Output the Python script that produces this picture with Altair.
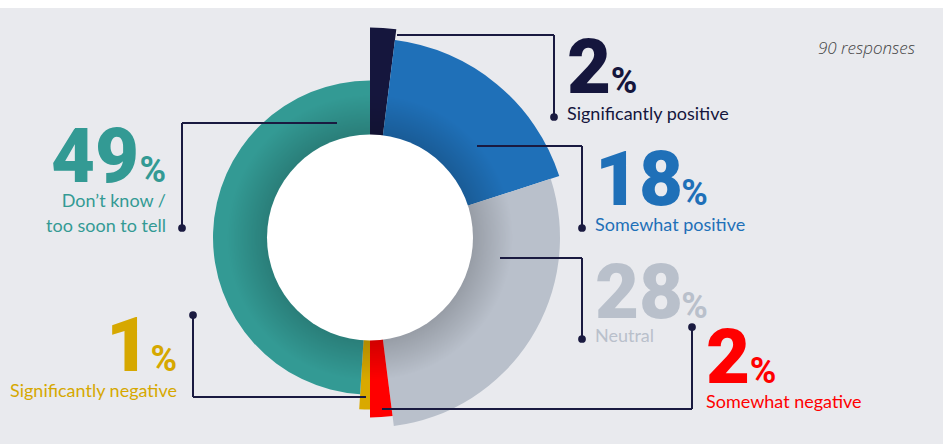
import altair as alt
import pandas as pd
import math

# ---------------- data ----------------
categories = ["Significantly positive", "Somewhat positive", "Neutral",
              "Somewhat negative", "Significantly negative",
              "Don’t know / too soon to tell"]
values = [2, 18, 28, 2, 1, 49]
label_lines = [["Significantly positive"], ["Somewhat positive"], ["Neutral"],
               ["Somewhat negative"], ["Significantly negative"],
               ["Don’t know /", "too soon to tell"]]
note_text = "90 responses"

# ---------------- styles / layout ----------------
slice_colors = ["#15163d", "#1f70b8", "#b9c0cb", "#ff0000", "#d9a900", "#339a94"]
text_colors = ["#15163d", "#1f70b8", "#b9c0cb", "#ff0000", "#d6a800", "#339a94"]
outer_r = [210, 199, 190, 180, 172, 157]
CX, CY, R_IN = 370, 237.5, 103
BG = "#e9eaee"
LINE = "#1a1a40"
NUM_FONT = "Roboto"
NUM_SIZE, PCT_SIZE = 76, 36
DIGIT_EM, PCT_EM = 0.5615, 0.72   # Roboto bold advance widths
LBL_FONT = "Lato"

# side, anchor x of the number block, number baseline, label x, label baselines
layout = [
    dict(side="L", ax=567, ny=93, lx=567, ly=[120]),
    dict(side="L", ax=595, ny=205, lx=595, ly=[231]),
    dict(side="L", ax=595, ny=318, lx=595, ly=[342]),
    dict(side="L", ax=706, ny=383, lx=706, ly=[408]),
    dict(side="R", ax=177, ny=371, lx=177, ly=[397]),
    dict(side="R", ax=166, ny=182, lx=166, ly=[207, 232]),
]
leaders = [
    [(397, 35), (554, 35), (554, 117)],
    [(477, 146), (582, 146), (582, 228)],
    [(500, 258), (582, 258), (582, 339)],
    [(382, 409), (692, 409), (692, 327)],
    [(366, 397), (193, 397), (193, 315)],
    [(337, 123), (182, 123), (182, 228)],
]

W, H = 946, 444

# ---------------- tables ----------------
arc_df = pd.DataFrame({"category": categories, "value": values,
                       "order": list(range(len(values))), "r": outer_r})

seg_rows, dot_rows = [], []
for pts in leaders:
    for (a, b) in zip(pts[:-1], pts[1:]):
        seg_rows.append({"x": a[0], "y": a[1], "x2": b[0], "y2": b[1]})
    dot_rows.append({"x": pts[-1][0], "y": pts[-1][1]})
seg_df = pd.DataFrame(seg_rows)
dot_df = pd.DataFrame(dot_rows)

num_rows, pct_rows, lbl_rows = [], [], []
pct_w = PCT_EM * PCT_SIZE
for v, lines, lay, col in zip(values, label_lines, layout, text_colors):
    s = str(v)
    num_w = len(s) * DIGIT_EM * NUM_SIZE
    if lay["side"] == "L":
        nx, px = lay["ax"], lay["ax"] + num_w + 1
    else:
        px, nx = lay["ax"], lay["ax"] - pct_w - 1
    num_rows.append({"t": s, "x": nx, "y": lay["ny"], "c": col, "side": lay["side"]})
    pct_rows.append({"t": "%", "x": px, "y": lay["ny"], "c": col, "side": lay["side"]})
    for ln, ly in zip(lines, lay["ly"]):
        lbl_rows.append({"t": ln, "x": lay["lx"], "y": ly, "c": col, "side": lay["side"]})
num_df = pd.DataFrame(num_rows)
pct_df = pd.DataFrame(pct_rows)
lbl_df = pd.DataFrame(lbl_rows)

one = pd.DataFrame({"k": [0]})

# ---------------- layers ----------------
bg = alt.Chart(one).mark_rect(color=BG).encode(
    x=alt.value(0), x2=alt.value(943), y=alt.value(8), y2=alt.value(H))

arcs = alt.Chart(arc_df).transform_window(
    end="sum(value)", sort=[alt.SortField("order")], frame=[None, 0]
).transform_calculate(start="datum.end - datum.value").mark_arc(
    innerRadius=R_IN - 3, stroke=None).encode(
    theta=alt.Theta("start:Q", scale=alt.Scale(domain=[0, 100], range=[0, 2 * math.pi])),
    theta2="end:Q",
    color=alt.Color("category:N", scale=alt.Scale(domain=categories, range=slice_colors), legend=None),
    radius=alt.Radius("r:Q", scale=None),
    x=alt.value(CX), y=alt.value(CY),
)

R_SH = 160
shade = alt.Chart(one).mark_arc(
    theta=0, theta2=2 * math.pi, radius=R_SH, innerRadius=R_IN - 3,
    color=alt.RadialGradient(
        gradient="radial", x1=0.5, y1=0.5, r1=0, x2=0.5, y2=0.5, r2=0.5,
        stops=[alt.GradientStop(offset=0, color="rgba(0,0,0,0.18)"),
               alt.GradientStop(offset=R_IN / R_SH, color="rgba(0,0,0,0.18)"),
               alt.GradientStop(offset=(R_IN + 40) / R_SH, color="rgba(0,0,0,0)"),
               alt.GradientStop(offset=1, color="rgba(0,0,0,0)")]),
).encode(x=alt.value(CX), y=alt.value(CY))

hole = alt.Chart(one).mark_circle(color="white", opacity=1, size=(2 * R_IN) ** 2).encode(
    x=alt.value(CX), y=alt.value(CY))

segs = alt.Chart(seg_df).mark_rule(color=LINE, strokeWidth=2).encode(
    x=alt.X("x:Q", scale=None), y=alt.Y("y:Q", scale=None),
    x2="x2:Q", y2="y2:Q")

dots = alt.Chart(dot_df).mark_circle(color=LINE, opacity=1, size=60).encode(
    x=alt.X("x:Q", scale=None), y=alt.Y("y:Q", scale=None))


def text_layer(df, side, **kw):
    align = "left" if side == "L" else "right"
    return alt.Chart(df).transform_filter(alt.datum.side == side).mark_text(
        align=align, baseline="alphabetic", **kw).encode(
        x=alt.X("x:Q", scale=None), y=alt.Y("y:Q", scale=None),
        text="t:N", color=alt.Color("c:N", scale=None))


texts = []
for side in ["L", "R"]:
    texts.append(text_layer(num_df, side, font=NUM_FONT, fontSize=NUM_SIZE, fontWeight=900))
    texts.append(text_layer(pct_df, side, font=NUM_FONT, fontSize=PCT_SIZE, fontWeight="bold"))
    texts.append(text_layer(lbl_df, side, font=LBL_FONT, fontSize=18))

note = alt.Chart(one).mark_text(
    text=note_text, align="right", baseline="alphabetic", font="Open Sans",
    fontStyle="italic", fontWeight=300, fontSize=17, color="#444444").encode(
    x=alt.value(915), y=alt.value(54))

chart = alt.layer(bg, arcs, shade, hole, segs, dots, *texts, note).properties(
    width=W, height=H, background="white", padding=0,
    autosize=alt.AutoSizeParams(type="none"),
).configure_view(strokeWidth=0)

chart.save("out.html", embed_options={"renderer": "svg", "actions": False})
